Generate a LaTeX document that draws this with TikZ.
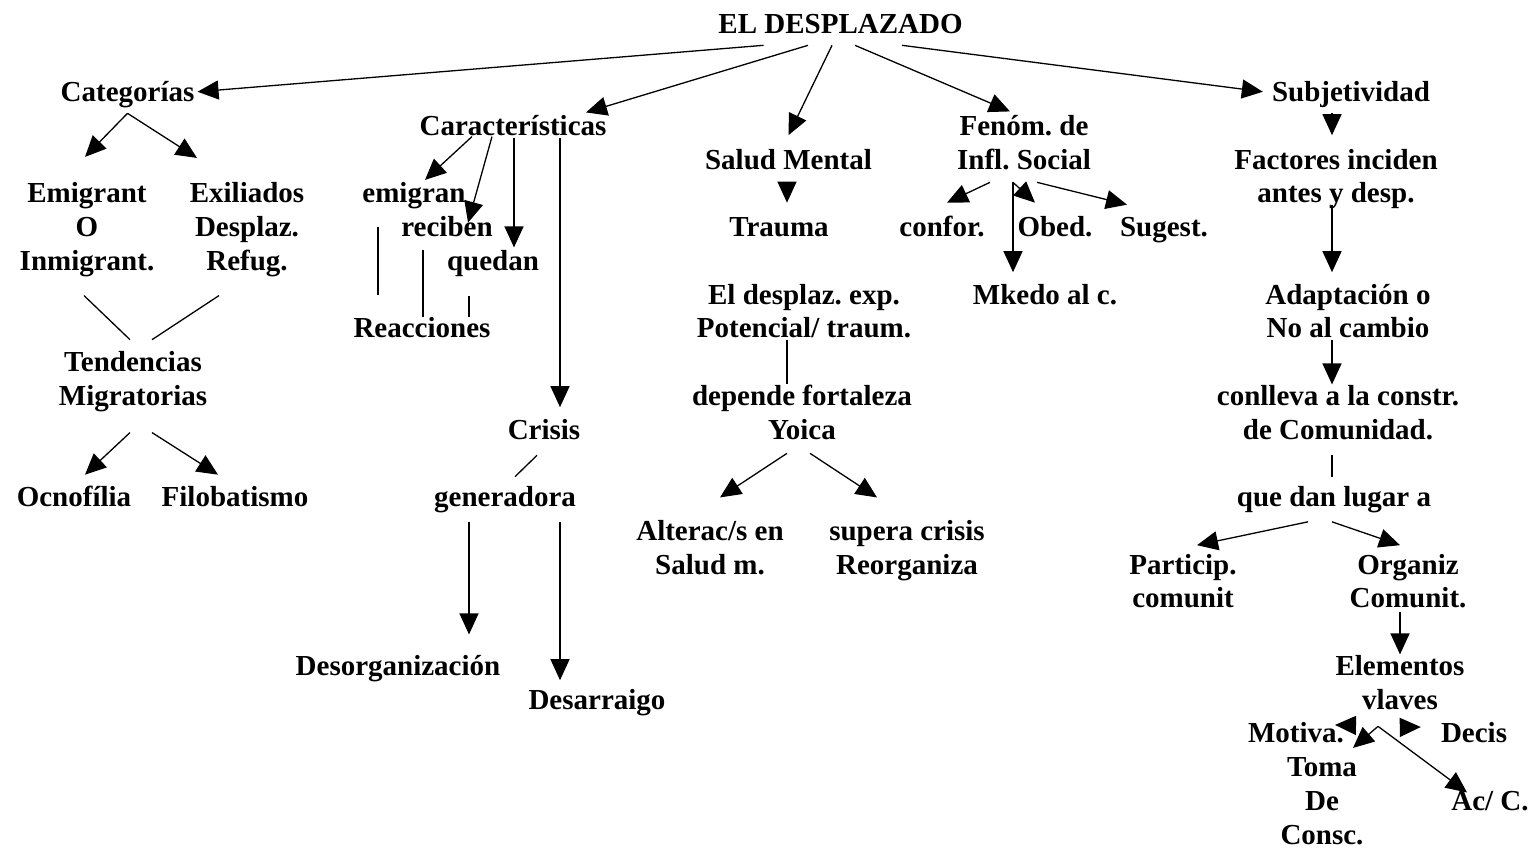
\documentclass[tikz,border=0pt]{standalone}
\usepackage{fontspec}
\setmainfont{Liberation Serif}
\usetikzlibrary{arrows.meta,calc}
\frenchspacing

\begin{document}
\begin{tikzpicture}[x=1pt,y=-1pt,
  lbl/.style={inner sep=0pt,align=center,font=\fontsize{29}{33.75}\selectfont\bfseries},
  arr/.style={line width=1.3pt,-{Triangle[length=21pt,width=19pt]}},
  lnk/.style={line width=1.3pt}]
  \useasboundingbox (0,0) rectangle (1533,848);

  \node[lbl] (top) at (840.5,27.25) {\strut EL DESPLAZADO};
  \node[lbl] (cat) at (127.5,94.75) {\strut Categorías};
  \node[lbl] (carac) at (513,128.5) {\strut Características};
  \node[lbl] (salud) at (788.5,162.25) {\strut Salud Mental};
  \node[lbl] (fen) at (1024,145.375) {\strut Fenóm. de\\\strut Infl. Social};
  \node[lbl] (subj) at (1351,94.75) {\strut Subjetividad};

  \node[lbl] (emig) at (87,229.75) {\strut Emigrant\\\strut O\\\strut Inmigrant.};
  \node[lbl] (exil) at (247,229.75) {\strut Exiliados\\\strut Desplaz.\\\strut Refug.};
  \node[lbl] (tend) at (133,381.625) {\strut Tendencias\\\strut Migratorias};
  \node[lbl] (ocno) at (74,499.75) {\strut Ocnofília};
  \node[lbl] (filo) at (235,499.75) {\strut Filobatismo};

  \node[lbl] (emigran) at (414,196) {\strut emigran};
  \node[lbl] (reciben) at (447,229.75) {\strut reciben};
  \node[lbl] (quedan) at (493,263.5) {\strut quedan};
  \node[lbl] (reac) at (422,331) {\strut Reacciones};
  \node[lbl] (crisis) at (544,432.25) {\strut Crisis};
  \node[lbl] (gen) at (505,499.75) {\strut generadora};
  \node[lbl] (desorg) at (398,668.5) {\strut Desorganización};
  \node[lbl] (desarr) at (597,702.25) {\strut Desarraigo};

  \node[lbl] (trauma) at (779,229.75) {\strut Trauma};
  \node[lbl] (desplaz) at (804,314.125) {\strut El desplaz. exp.\\\strut Potencial/ traum.};
  \node[lbl] (depende) at (802,415.375) {\strut depende fortaleza\\\strut Yoica};
  \node[lbl] (alter) at (710,550.375) {\strut Alterac/s en\\\strut Salud m.};
  \node[lbl] (supera) at (907,550.375) {\strut supera crisis\\\strut Reorganiza};

  \node[lbl] (confor) at (942,229.75) {\strut confor.};
  \node[lbl] (obed) at (1055,229.75) {\strut Obed.};
  \node[lbl] (sugest) at (1164,229.75) {\strut Sugest.};
  \node[lbl] (mkedo) at (1045,297.25) {\strut Mkedo al c.};

  \node[lbl] (fact) at (1336,179.125) {\strut Factores inciden\\\strut antes y desp.};
  \node[lbl] (adapt) at (1348,314.125) {\strut Adaptación o\\\strut No al cambio};
  \node[lbl] (conlleva) at (1338,415.375) {\strut conlleva a la constr.\\\strut de Comunidad.};
  \node[lbl] (lugar) at (1334,499.75) {\strut que dan lugar a};
  \node[lbl] (partic) at (1183,584.125) {\strut Particip.\\\strut comunit};
  \node[lbl] (organiz) at (1408,584.125) {\strut Organiz\\\strut Comunit.};
  \node[lbl] (elem) at (1400,685.375) {\strut Elementos\\\strut vlaves};
  \node[lbl] (motiva) at (1322,786.625) {\strut Motiva.\hspace*{52pt}\\\strut Toma\\\strut De\\\strut Consc.};
  \node[lbl] (decis) at (1474,736) {\strut Decis};
  \node[lbl] (acc) at (1490,803.5) {\strut Ac/ C.};

  \draw[arr] ($(top.south)+(-77,1)$) -- ($(cat.east)+(3,-3)$);
  \draw[arr] ($(top.south)+(-32.5,1)$) -- ($(carac.north)+(73,1)$);
  \draw[arr] ($(top.south)+(-8.5,1)$) -- ($(salud.north)+(0,-10)$);
  \draw[arr] ($(top.south)+(14.5,1)$) -- ($(fen.north)+(-14,0)$);
  \draw[arr] ($(top.south)+(61.5,1)$) -- ($(subj.west)+(-9,-3)$);

  \draw[arr] ($(cat.south)+(0,1.5)$) -- ($(emig.north)+(-2,-22)$);
  \draw[arr] ($(cat.south)+(0,1.5)$) -- ($(exil.north)+(-50,-21)$);
  \draw[lnk] ($(emig.south)+(-3,15)$) -- ($(tend.north)+(-3,-8)$);
  \draw[lnk] ($(exil.south)+(-28,15)$) -- ($(tend.north)+(19,-8)$);
  \draw[arr] ($(tend.south)+(-3,17)$) -- ($(ocno.north)+(11,-8)$);
  \draw[arr] ($(tend.south)+(19,17)$) -- ($(filo.north)+(-17,-8)$);

  \draw[arr] ($(carac.south)+(-41,-9)$) -- ($(emigran.north)+(11,1)$);
  \draw[arr] ($(carac.south)+(-21,-9)$) -- ($(reciben.north)+(21,10)$);
  \draw[arr] ($(carac.south)+(1,-8)$) -- ($(quedan.north)+(21,1)$);
  \draw[arr] ($(carac.south)+(47,-8)$) -- ($(crisis.north)+(16,-8)$);
  \draw[lnk] ($(emigran.south)+(-36,14)$) -- ($(reac.north)+(-44,-19)$);
  \draw[lnk] ($(reciben.south)+(-24,3)$) -- ($(reac.north)+(1,3)$);
  \draw[lnk] ($(quedan.south)+(-24,15)$) -- ($(reac.north)+(47,3)$);
  \draw[lnk] ($(crisis.south)+(-7,6)$) -- ($(gen.north)+(10,-6)$);
  \draw[arr] ($(gen.south)+(-36,5)$) -- ($(desorg.north)+(71,-17)$);
  \draw[arr] ($(gen.south)+(55,5)$) -- ($(desarr.north)+(-37,-5)$);

  \draw[arr] ($(salud.south)+(-1.5,3)$) -- ($(trauma.north)+(8,-10)$);
  \draw[lnk] ($(desplaz.south)+(-17,-8)$) -- ($(depende.north)+(-15,3)$);
  \draw[arr] ($(depende.south)+(-15,4)$) -- ($(alter.north)+(10,-19)$);
  \draw[arr] ($(depende.south)+(8,4)$) -- ($(supera.north)+(-30,-19)$);

  \draw[arr] ($(fen.south)+(-34,3)$) -- ($(confor.north)+(5,-10)$);
  \draw[arr] ($(fen.south)+(-11,3)$) -- ($(obed.north)+(-20,-10)$);
  \draw[arr] ($(fen.south)+(-11,3)$) -- ($(mkedo.north)+(-32,-8)$);
  \draw[arr] ($(fen.south)+(13,3)$) -- ($(sugest.north)+(-37,-8)$);

  \draw[arr] ($(subj.south)+(-19,1.5)$) -- ($(fact.north)+(-4,-10)$);
  \draw[arr] ($(fact.south)+(-4,-8)$) -- ($(adapt.north)+(-16,-8)$);
  \draw[arr] ($(adapt.south)+(-16,-8)$) -- ($(conlleva.north)+(-6,3)$);
  \draw[lnk] ($(conlleva.south)+(-6,6)$) -- ($(lugar.north)+(-2,-6)$);
  \draw[arr] ($(lugar.south)+(-26,5)$) -- ($(partic.north)+(14,-5)$);
  \draw[arr] ($(lugar.south)+(-2,5)$) -- ($(organiz.north)+(-8,-5)$);
  \draw[arr] ($(organiz.south)+(-8,-6)$) -- ($(elem.north)+(0,3)$);
  \draw[arr] ($(elem.south)+(-47,6)$) -- ($(motiva.north)+(13,6)$);
  \draw[arr] ($(elem.south)+(2,8)$) -- ($(decis.west)+(-20,-9)$);
  \draw[arr] ($(elem.south)+(-22,7)$) -- ($(motiva.north)+(31,29)$);
  \draw[arr] ($(elem.south)+(-22,7)$) -- ($(acc.north)+(-23,6)$);
\end{tikzpicture}
\end{document}
